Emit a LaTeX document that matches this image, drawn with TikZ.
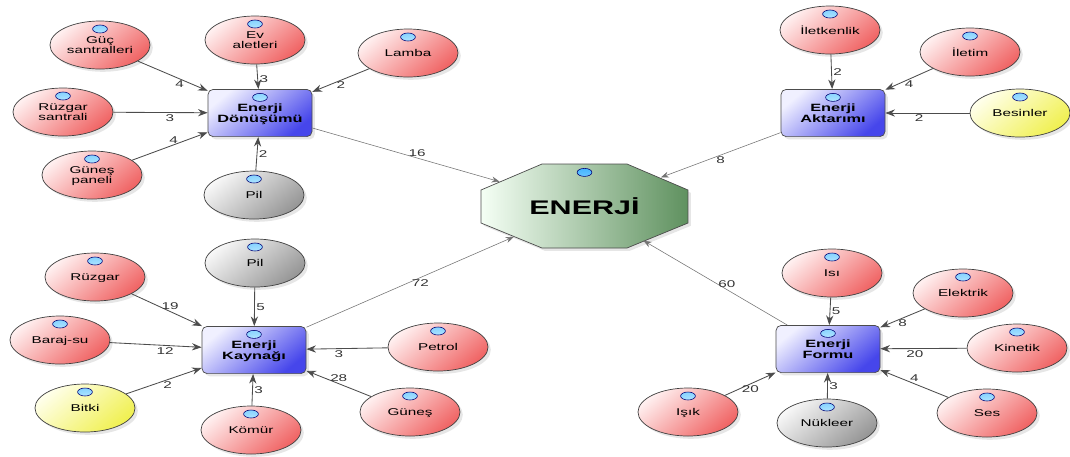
\documentclass[tikz,border=0pt]{standalone}
\usepackage{fontspec}
\setmainfont{Liberation Sans}[FakeStretch=1.55]
\usepackage{tikz}
\usetikzlibrary{arrows.meta,shapes.geometric,shadows}

\definecolor{leafred}{RGB}{240,100,100}
\definecolor{leafgray}{RGB}{150,150,150}
\definecolor{leafyel}{RGB}{240,240,80}
\definecolor{hubblue}{RGB}{70,70,235}
\definecolor{octgreen}{RGB}{95,145,95}

\newcommand{\bead}{\shadedraw[inner color=cyan!8, outer color=cyan!60!blue!80, draw=blue!45!black, line width=0.4pt]
  ([yshift=-2mm]path picture bounding box.north) ellipse (1.85mm and 1mm);}

\begin{document}
\begin{tikzpicture}[
  x=0.025cm, y=-0.025cm,
  leaf/.style={ellipse, draw=black!75, line width=0.5pt, minimum width=2.5cm, minimum height=1.2cm,
    inner sep=0pt, align=center, font=\fontsize{7}{7.3}\selectfont, text depth=-0.8mm,
    drop shadow={opacity=0.2, shadow xshift=0.7mm, shadow yshift=-0.7mm}, path picture={\bead}},
  redleaf/.style={leaf, top color=red!6, bottom color=leafred, shading angle=40},
  grayleaf/.style={leaf, top color=gray!6, bottom color=leafgray, shading angle=40},
  yelleaf/.style={leaf, top color=yellow!8, bottom color=leafyel, shading angle=40},
  hub/.style={rectangle, rounded corners=1.3mm, draw=black!70, line width=0.5pt, minimum width=2.6cm,
    minimum height=1.18cm, align=center, font=\bfseries\fontsize{7.5}{7.8}\selectfont, text depth=-0.9mm,
    top color=blue!6, bottom color=hubblue, shading angle=40,
    drop shadow={opacity=0.2, shadow xshift=0.7mm, shadow yshift=-0.7mm}, path picture={\bead}},
  octagon/.style={draw=black!70, line width=0.5pt, left color=green!4, right color=octgreen,
    drop shadow={opacity=0.2, shadow xshift=0.7mm, shadow yshift=-0.7mm}},
  center/.style={ellipse, minimum width=5.2cm, minimum height=2.08cm, inner sep=0pt,
    font=\bfseries\fontsize{14}{16}\selectfont, path picture={\bead}},
  feed/.style={draw=black!70, line width=0.6pt, -{Stealth[length=2.4mm,width=1.8mm]}},
  main/.style={draw=black!55, line width=0.4pt, -{Stealth[length=2mm,width=1.5mm]}},
  num/.style={font=\fontsize{7}{8}\selectfont, inner sep=1pt, text=black!80}
]
\useasboundingbox (0,0) rectangle (1070,456);

% centre
\path[octagon] (542,164) -- (627,164) -- (688,190) -- (688,223) -- (627,248)
  -- (542,248) -- (481,223) -- (481,190) -- cycle;
\node[center] (energi) at (584.5,206) {ENERJİ};

% hubs
\node[hub] (donusum) at (260,113) {Enerji\\Dönüşümü};
\node[hub] (aktarim) at (833,113) {Enerji\\Aktarımı};
\node[hub] (kaynak) at (254,350) {Enerji\\Kaynağı};
\node[hub] (form) at (828,349) {Enerji\\Formu};

% Enerji Dönüşümü
\node[redleaf] (guc) at (100,45) {Güç\\santralleri};
\node[redleaf] (ev) at (255,40) {Ev\\aletleri};
\node[redleaf] (lamba) at (408,53) {Lamba};
\node[redleaf] (ruzgarS) at (63,112) {Rüzgar\\santrali};
\node[redleaf] (gunesP) at (92,175) {Güneş\\paneli};
\node[grayleaf] (pilA) at (254,195) {Pil};

% Enerji Aktarımı
\node[redleaf] (iletken) at (830,30) {İletkenlik};
\node[redleaf] (iletim) at (970,52) {İletim};
\node[yelleaf] (besin) at (1020,113) {Besinler};

% Enerji Kaynağı
\node[redleaf] (ruzgar) at (95,277) {Rüzgar};
\node[grayleaf] (pilB) at (255,263) {Pil};
\node[redleaf] (baraj) at (60,340) {Baraj-su};
\node[yelleaf] (bitki) at (85,408) {Bitki};
\node[redleaf] (komur) at (251,430) {Kömür};
\node[redleaf] (petrol) at (438,347) {Petrol};
\node[redleaf] (gunes) at (410,412) {Güneş};

% Enerji Formu
\node[redleaf] (isi) at (832,273) {Isı};
\node[redleaf] (elektrik) at (963,293) {Elektrik};
\node[redleaf] (kinetik) at (1017,348) {Kinetik};
\node[redleaf] (ses) at (987,413) {Ses};
\node[grayleaf] (nukleer) at (827,423) {Nükleer};
\node[redleaf] (isik) at (688,412) {Işık};

% connectors
\draw[feed] (guc) -- node[num, pos=0.6, below] {4} (donusum);
\draw[feed] (ev) -- node[num, pos=0.6, right] {3} (donusum);
\draw[feed] (lamba) -- node[num, pos=0.5, below] {2} (donusum);
\draw[feed] (ruzgarS) -- node[num, pos=0.6, below] {3} (donusum);
\draw[feed] (gunesP) -- node[num, pos=0.55, above] {4} (donusum);
\draw[feed] (pilA) -- node[num, pos=0.5, right] {2} (donusum);
\draw[main] (donusum) -- node[num, pos=0.56, above] {16} (energi);

\draw[feed] (iletken) -- node[num, pos=0.5, right] {2} (aktarim);
\draw[feed] (iletim) -- node[num, pos=0.5, below] {4} (aktarim);
\draw[feed] (besin) -- node[num, pos=0.6, below] {2} (aktarim);
\draw[main] (aktarim) -- node[num, pos=0.5, below] {8} (energi);

\draw[feed] (ruzgar) -- node[num, pos=0.55, above] {19} (kaynak);
\draw[feed] (baraj) -- node[num, pos=0.6, below] {12} (kaynak);
\draw[feed] (bitki) -- node[num, pos=0.55, below] {2} (kaynak);
\draw[feed] (pilB) -- node[num, pos=0.5, right] {5} (kaynak);
\draw[feed] (komur) -- node[num, pos=0.5, right] {3} (kaynak);
\draw[feed] (petrol) -- node[num, pos=0.6, below] {3} (kaynak);
\draw[feed] (gunes) -- node[num, pos=0.5, above] {28} (kaynak);
\draw[main] (kaynak) -- node[num, pos=0.55, below] {72} (energi);

\draw[feed] (isi) -- node[num, pos=0.5, right] {5} (form);
\draw[feed] (elektrik) -- node[num, pos=0.5, below] {8} (form);
\draw[feed] (kinetik) -- node[num, pos=0.6, below] {20} (form);
\draw[feed] (ses) -- node[num, pos=0.5, above] {4} (form);
\draw[feed] (nukleer) -- node[num, pos=0.5, right] {3} (form);
\draw[feed] (isik) -- node[num, pos=0.5, below] {20} (form);
\draw[main] (form) -- node[num, pos=0.42, above] {60} (energi);
\end{tikzpicture}
\end{document}
